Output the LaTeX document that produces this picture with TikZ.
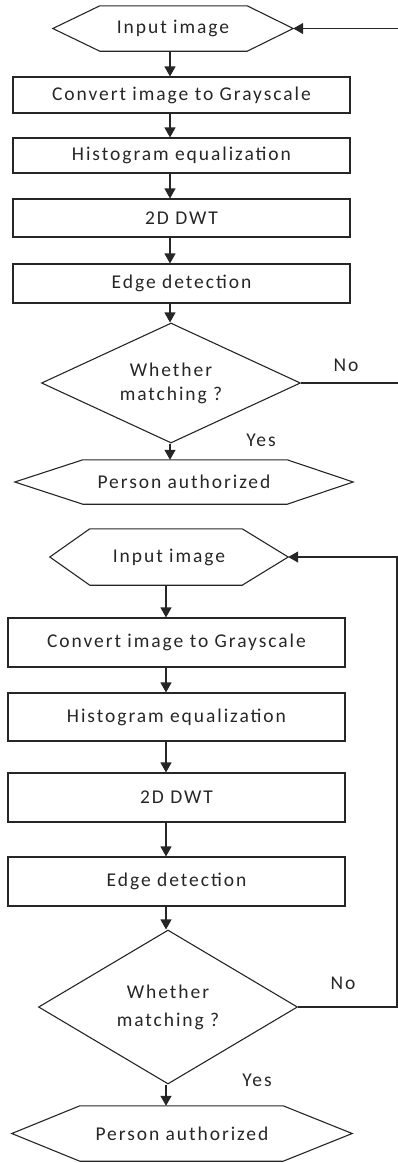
\documentclass[tikz,border=0pt]{standalone}
\usepackage{fontspec}
\setmainfont{Carlito}[LetterSpace=10]
\usetikzlibrary{arrows.meta,shapes.geometric}
\tikzset{
  ln/.style={line width=1.1pt, draw=black!85},
  arr/.style={ln, -{Triangle[width=11pt,length=10pt]}},
  txt/.style={font=\fontsize{19.5}{23}\selectfont, text=black!85},
  hexn/.style={txt, inner sep=0pt},
  procbox/.style={txt, ln, rectangle, inner sep=0pt},
  decide/.style={txt, ln, diamond, inner sep=0pt, align=center},
  lbl/.style={txt, inner sep=0pt}
}
\newcommand{\drawhex}[3]{%
  \draw[ln] (#1.west) -- ([xshift=#2]#1.north west) -- ([xshift=-#3]#1.north east)
    -- (#1.east) -- ([xshift=-#3]#1.south east) -- ([xshift=#2]#1.south west) -- cycle;}
\begin{document}
\begin{tikzpicture}[x=1pt,y=-1pt]
\useasboundingbox (0,0) rectangle (398,1163);
% ---------------- top chart ----------------
\coordinate (axT) at (170,0);
\coordinate (rT) at (398,0);
\node[hexn, minimum width=240pt, minimum height=45pt] (in1) at (173,28.5) {Input image};
\drawhex{in1}{47}{46}
\node[procbox, minimum width=337pt, minimum height=36pt] (b1) at (181.5,95) {Convert image to Grayscale};
\node[procbox, minimum width=337pt, minimum height=35pt] (b2) at (181.5,155.5) {Histogram equalization};
\node[procbox, minimum width=337pt, minimum height=38pt] (b3) at (181.5,218) {2D DWT};
\node[procbox, minimum width=337pt, minimum height=39pt] (b4) at (181.5,283.5) {Edge detection};
\node[decide, aspect=2.16, minimum width=259pt, minimum height=120pt] (d1) at (171,383) {Whether\\[1pt]matching ?};
\node[hexn, minimum width=338pt, minimum height=44pt] (out1) at (184,482) {Person authorized};
\drawhex{out1}{68}{66}
\node[lbl] (no1) at (346,365) {No};
\node[lbl] (yes1) at (261,440) {Yes};
\draw[arr] (axT |- in1.south) -- (axT |- b1.north);
\draw[arr] (axT |- b1.south) -- (axT |- b2.north);
\draw[arr] (axT |- b2.south) -- (axT |- b3.north);
\draw[arr] (axT |- b3.south) -- (axT |- b4.north);
\draw[arr] (axT |- b4.south) -- (axT |- d1.north);
\draw[arr] (axT |- d1.south) -- (axT |- out1.north);
\draw[ln] (d1.east) -- (rT |- d1.east);
\draw[arr] (rT |- in1.east) -- (in1.east);
% ---------------- bottom chart ----------------
\coordinate (axB) at (166,0);
\coordinate (rB) at (397,0);
\node[hexn, minimum width=238pt, minimum height=56pt] (in2) at (169,557) {Input image};
\drawhex{in2}{40}{46}
\node[procbox, minimum width=337pt, minimum height=49pt] (c1) at (176.5,642.5) {Convert image to Grayscale};
\node[procbox, minimum width=337pt, minimum height=48pt] (c2) at (176.5,717) {Histogram equalization};
\node[procbox, minimum width=337pt, minimum height=49pt] (c3) at (176.5,797.5) {2D DWT};
\node[procbox, minimum width=337pt, minimum height=49pt] (c4) at (176.5,881.5) {Edge detection};
\node[decide, aspect=1.68, minimum width=259pt, minimum height=154pt] (d2) at (168,1007) {Whether\\[5pt]matching ?};
\node[hexn, minimum width=340pt, minimum height=55pt] (out2) at (182,1133.5) {Person authorized};
\drawhex{out2}{68}{69}
\node[lbl] (no2) at (343,983) {No};
\node[lbl] (yes2) at (257,1080) {Yes};
\draw[arr] (axB |- in2.south) -- (axB |- c1.north);
\draw[arr] (axB |- c1.south) -- (axB |- c2.north);
\draw[arr] (axB |- c2.south) -- (axB |- c3.north);
\draw[arr] (axB |- c3.south) -- (axB |- c4.north);
\draw[arr] (axB |- c4.south) -- (axB |- d2.north);
\draw[arr] (axB |- d2.south) -- (axB |- out2.north);
\draw[arr] (d2.east) -- (rB |- d2.east) -- (rB |- in2.east) -- (in2.east);
\end{tikzpicture}
\end{document}
